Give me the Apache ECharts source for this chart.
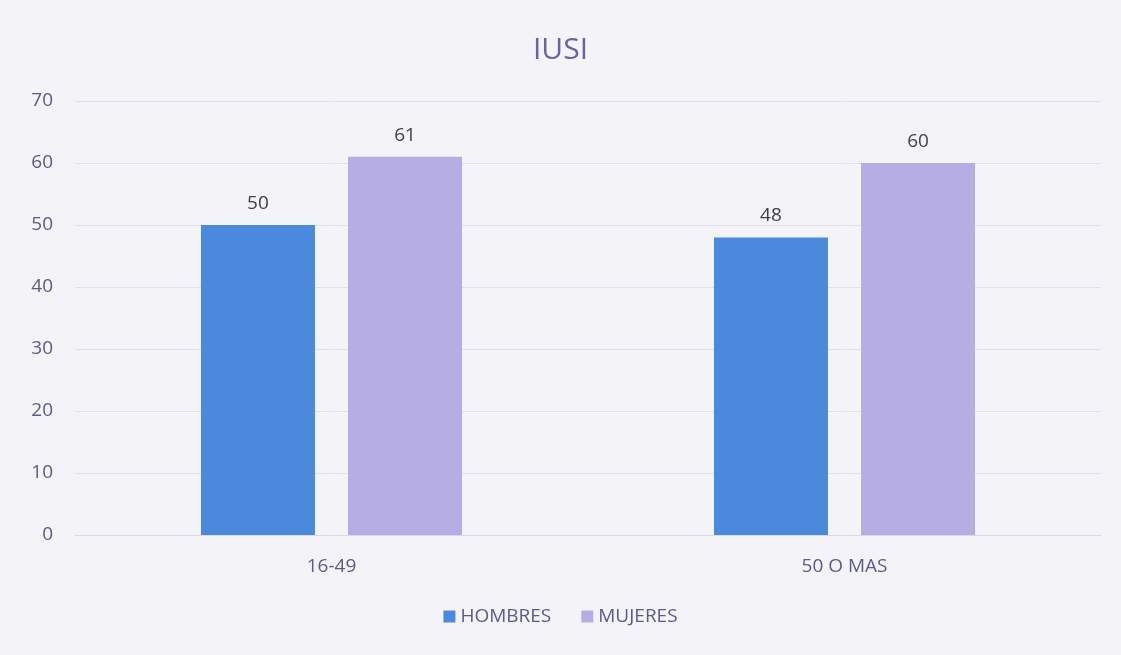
<!DOCTYPE html>
<html>
<head>
<meta charset="utf-8">
<script src="https://cdn.jsdelivr.net/npm/echarts@6/dist/echarts.min.js"></script>
<style>
html,body{margin:0;padding:0;background:#f4f4f8;}
#c{width:1121px;height:655px;}
</style>
</head>
<body>
<div id="c"></div>
<script>
var categories = ['16-49', '50 O MAS'];
var hombres = [50, 48];
var mujeres = [61, 60];
var seriesNames = ['HOMBRES', 'MUJERES'];

var chart = echarts.init(document.getElementById('c'));
var font = 'Open Sans';
chart.setOption({
  backgroundColor: '#f4f4f8',
  title: {
    text: 'IUSI', left: 'center', top: 30,
    textStyle: {fontFamily: font, fontSize: 30, fontWeight: 'normal', color: '#6a62a8'}
  },
  legend: {
    bottom: 24, left: 'center', itemWidth: 12, itemHeight: 12, itemGap: 30,
    icon: 'rect',
    textStyle: {fontFamily: font, fontSize: 19, color: '#5c5a8a'},
    data: seriesNames
  },
  grid: {left: 75, right: 20, top: 101, bottom: 120},
  xAxis: {
    type: 'category', data: categories,
    axisLine: {show: true, lineStyle: {color: '#d8d9e6'}},
    axisTick: {show: false},
    axisLabel: {fontFamily: font, fontSize: 19, color: '#5c5a8a', margin: 22}
  },
  yAxis: {
    type: 'value', min: 0, max: 70, interval: 10,
    axisLine: {show: false}, axisTick: {show: false},
    splitLine: {lineStyle: {color: '#dfe1ee'}},
    axisLabel: {fontFamily: font, fontSize: 19, color: '#5c5a8a', margin: 22}
  },
  series: [
    {name: seriesNames[0], type: 'bar', data: hombres, barWidth: 114, barGap: '29%',
     itemStyle: {color: '#4a89dc'},
     label: {show: true, position: 'top', distance: 12, fontFamily: font, fontSize: 19, color: '#404048'}},
    {name: seriesNames[1], type: 'bar', data: mujeres, barWidth: 114,
     itemStyle: {color: '#b6ade4'},
     label: {show: true, position: 'top', distance: 12, fontFamily: font, fontSize: 19, color: '#404048'}}
  ]
});
</script>
</body>
</html>
